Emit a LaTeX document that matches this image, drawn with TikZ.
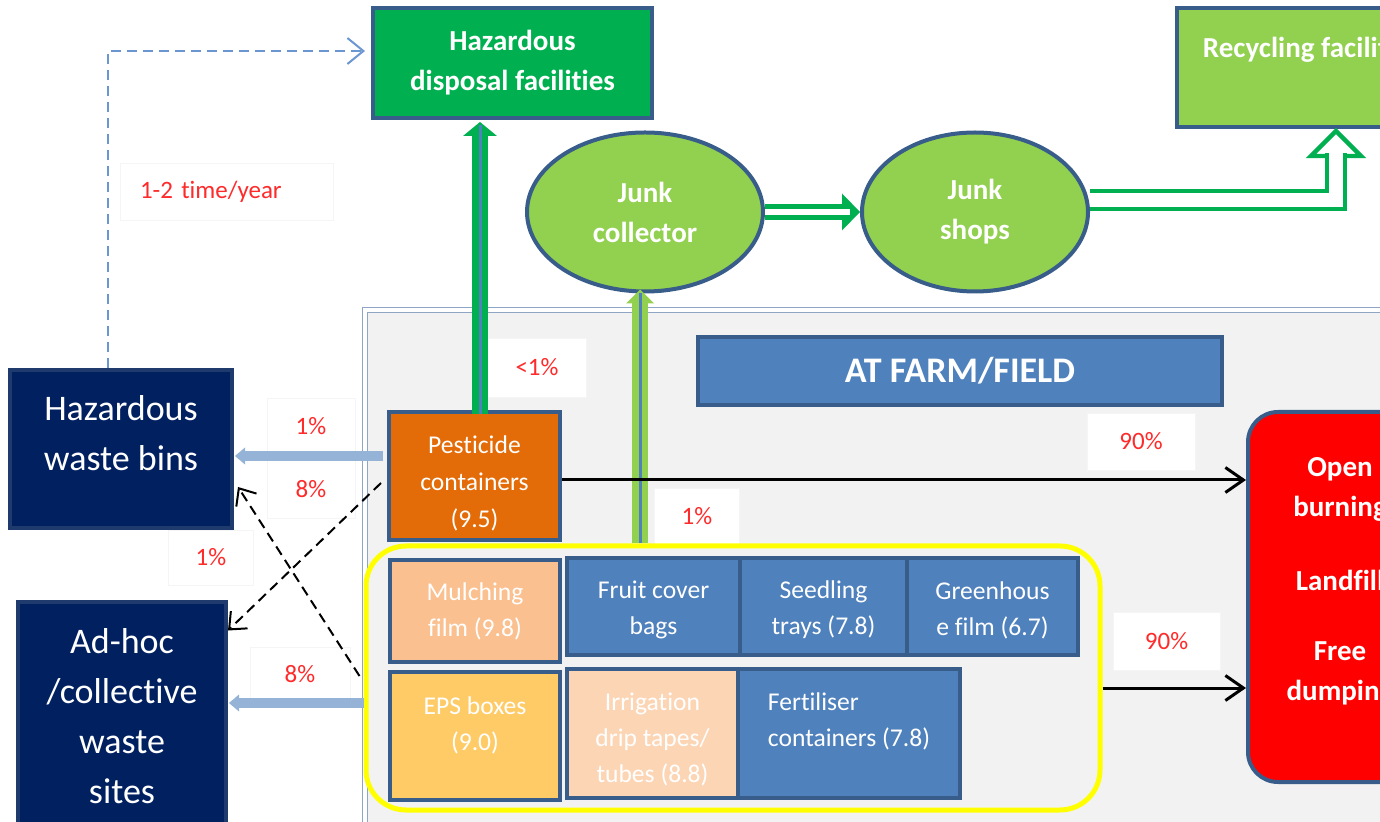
\documentclass[tikz,border=0pt]{standalone}
\usepackage{fontspec}
\setmainfont{Carlito}[Ligatures=NoCommon]
\usetikzlibrary{arrows.meta,shapes.geometric,calc}
\definecolor{bord}{HTML}{385D8A}
\definecolor{hgreen}{HTML}{00B050}
\definecolor{lgreen}{HTML}{92D050}
\definecolor{navy}{HTML}{002060}
\definecolor{navyb}{HTML}{1F3B6E}
\definecolor{orng}{HTML}{E36C09}
\definecolor{peach}{HTML}{FAC090}
\definecolor{epsc}{HTML}{FECB66}
\definecolor{irrc}{HTML}{FCD5B5}
\definecolor{fblue}{HTML}{4F81BD}
\definecolor{farmbg}{HTML}{F2F2F2}
\definecolor{frameb}{HTML}{8EA6C4}
\definecolor{ylw}{HTML}{FFFF00}
\definecolor{rd}{HTML}{FF0000}
\definecolor{pctred}{HTML}{FF2A2A}
\definecolor{lblue}{HTML}{95B3D7}
\definecolor{dblue}{HTML}{6A96D2}
\newcommand\myfs[2]{\fontsize{#1}{#2}\selectfont}
\tikzset{
  box/.style={draw=bord, line width=2pt, inner sep=0pt, align=center, text=white},
  nbox/.style={draw=navyb, line width=2pt, fill=navy, inner sep=0pt, align=center, text=white, font=\myfs{18}{25}},
  ell/.style={ellipse, draw=bord, line width=2pt, fill=lgreen, inner sep=0pt, align=center, text=white, font=\bfseries\myfs{14.5}{20}},
  itext/.style={font=\myfs{12.8}{18}},
  btext/.style={text=white, align=center, inner sep=0pt, font=\myfs{12.8}{18}},
  pct/.style={fill=white, draw=black!4, text=pctred, font=\myfs{12.5}{14}, inner sep=0pt},
  blkarrow/.style={black, line width=1.5pt, -{Straight Barb[length=9pt,width=12.5pt]}},
  blkdash/.style={black, line width=1pt, dash pattern=on 5pt off 3pt, -{Straight Barb[length=7pt,width=12pt]}},
  bluedash/.style={dblue, line width=1pt, dash pattern=on 5pt off 3pt, -{Straight Barb[length=8pt,width=13pt]}},
  hollow/.style={draw=hgreen, double=white},
}
\begin{document}
\begin{tikzpicture}[x=0.5pt,y=-0.5pt]
\useasboundingbox (0,0) rectangle (1380,822);
\clip (0,0) rectangle (1380,822);

% farm area frame
\node[draw=frameb, double=white, line width=0.6pt, double distance=2pt, fill=farmbg,
      minimum width=527.5pt, minimum height=275pt, inner sep=0pt] (frame) at (892.5,585) {};

% percentage labels
\node[pct, minimum width=106.5pt, minimum height=28.5pt, text width=86.5pt, inner xsep=10pt, align=left] (l12) at (226.5,191.5) {1-2 time/year};
\node[pct, minimum width=49.5pt, minimum height=29.5pt] (lt1) at (537,367.5) {<1\%};
\node[pct, minimum width=44pt, minimum height=28.5pt] (l1a) at (311,426.5) {1\%};
\node[pct, minimum width=44pt, minimum height=29pt] (l8a) at (311,489) {8\%};
\node[pct, minimum width=42.5pt, minimum height=27.5pt] (l1b) at (211,557.5) {1\%};
\node[pct, minimum width=50pt, minimum height=27pt] (l8b) at (300,674) {8\%};
\node[pct, minimum width=42.5pt, minimum height=28.5pt] (l1c) at (697,516.5) {1\%};
\node[pct, minimum width=54pt, minimum height=28.5pt] (l90a) at (1141,441.5) {90\%};
\node[pct, minimum width=53.5pt, minimum height=29pt] (l90b) at (1166.5,641) {90\%};

% top row
\node[box, fill=hgreen, minimum width=139.5pt, minimum height=55pt, font=\bfseries\myfs{14.5}{20}] (hdf) at (512.5,63) {Hazardous\\disposal facilities};
\node[box, fill=lgreen, minimum width=135pt, minimum height=59.5pt, font=\bfseries\myfs{14.5}{20}] (rec) at (1312,67.5) {Recycling facilities\\\mbox{}};
\node[ell, minimum width=118pt, minimum height=79.5pt] (jc) at (645,212) {Junk\\collector};
\node[ell, minimum width=113pt, minimum height=79.5pt] (js) at (975,212) {Junk\\shops};

% left boxes
\node[nbox, minimum width=111pt, minimum height=79pt] (hwb) at (121,449) {};
\node[text=white, align=center, font=\myfs{18}{25}, inner sep=0pt] (hwbt) at (121,433) {Hazardous\\waste bins};
\node[nbox, minimum width=104pt, minimum height=113.5pt] (adh) at (122,716) {Ad-hoc\\/collective\\waste\\sites};

% farm
\node[box, fill=fblue, minimum width=262pt, minimum height=34pt, font=\bfseries\myfs{18}{21}] (farm) at (960,371) {AT FARM/FIELD};
\node[box, fill=orng, minimum width=85.5pt, minimum height=64pt] (pc) at (474.5,476) {};
\node[btext, font=\myfs{12.8}{18.5}] (pct) at ([yshift=-3.5pt]pc.center) {Pesticide\\containers\\(9.5)};
\node[box, fill=rd, rounded corners=15pt, minimum width=92pt, minimum height=185pt] (dest) at (1340,597) {};
\node[btext, font=\bfseries\myfs{14.5}{20}] (destt) at ([yshift=8pt]dest.center) {Open\\burning\\[17pt]Landfill\\[15pt]Free\\dumping};

\node[draw=ylw, line width=2.5pt, rounded corners=20pt, minimum width=367pt, minimum height=132pt, inner sep=0pt] (ybox) at (733,678) {};
\node[box, itext, fill=peach, minimum width=85pt, minimum height=51pt] (mulch) at (475,611) {Mulching\\film (9.8)};
\node[box, fill=fblue, minimum width=86.5pt, minimum height=48.5pt] (fruit) at (653.5,606.5) {};
\node[btext] (fruitt) at ([yshift=-1.75pt]fruit.center) {Fruit cover\\bags};
\node[box, fill=fblue, minimum width=83.5pt, minimum height=48.5pt] (seed) at (823.5,606.5) {};
\node[btext] (seedt) at ([yshift=-1.75pt]seed.center) {Seedling\\trays (7.8)};
\node[box, fill=fblue, minimum width=85.5pt, minimum height=48.5pt] (ghf) at (992.5,606.5) {};
\node[btext] (ghft) at ([yshift=-1.75pt]ghf.center) {Greenhous\\e film (6.7)};
\node[box, fill=epsc, minimum width=85pt, minimum height=64pt] (eps) at (475,736) {};
\node[btext] (epst) at ([yshift=5.25pt]eps.center) {EPS boxes\\(9.0)};
\node[box, fill=irrc, minimum width=85.5pt, minimum height=64.5pt] (irr) at (652.5,733.5) {};
\node[btext] (irrt) at ([yshift=-3pt]irr.center) {Irrigation\\drip tapes/\\tubes (8.8)};
\node[box, fill=fblue, minimum width=111pt, minimum height=64.5pt] (fert) at (849,733.5) {};
\node[btext, align=left] (fertt) at ([yshift=6pt]fert.center) {Fertiliser\\containers (7.8)};

% dashed blue: bins -> hazardous disposal
\draw[bluedash] ([xshift=-6.5pt]hwb.north) |- ([xshift=-3pt,yshift=6pt]hdf.west);

% green arrow pesticide -> hazardous disposal
\coordinate (gA) at ([xshift=2.75pt,yshift=-2pt]pc.north);
\coordinate (gB) at (gA |- hdf.south);
\draw[hgreen, line width=8pt] (gA) -- ($(gB)+(0,14)$);
\fill[hgreen] ($(gB)+(0,2)$) -- ++(-17,14) -- ++(34,0) -- cycle;
\draw[fblue, line width=1.5pt] (gA) -- ($(gB)+(0,5)$);

% light green arrow yellow group -> junk collector
\coordinate (lgB) at ([xshift=-2.5pt,yshift=2pt]jc.south);
\coordinate (lgA) at (lgB |- ybox.north);
\draw[lgreen, line width=8pt] (lgA) -- ($(lgB)+(0,13)$);
\fill[lgreen] (lgB) -- ++(-14,14) -- ++(28,0) -- cycle;
\draw[fblue, line width=1.5pt] (lgA) -- ($(lgB)+(0,4)$);

% junk collector -> junk shops
\fill[hgreen] (js.west) -- ++(-18,-18.5) -- ++(0,37) -- cycle;
\draw[hollow, line width=2.5pt, double distance=3pt] (jc.east) -- ([xshift=-5pt]js.west);

% junk shops -> recycling
\coordinate (rT) at ([xshift=12pt,yshift=-1pt]rec.south);
\draw[hgreen, line width=2.2pt, fill=white, line join=miter] (rT) -- ++(-25,25) -- ++(50,0) -- cycle;
\draw[hollow, line width=2.2pt, double distance=7pt] ([yshift=6pt]js.east) -| ($(rT)+(0,22)$);

% light blue arrows
\coordinate (bA) at ([yshift=10pt]pc.west);
\coordinate (bB) at (bA -| hwb.east);
\draw[lblue, line width=5pt] ($(bA)+(-4,0)$) -- ($(bB)+(8,0)$);
\fill[lblue] ($(bB)+(1,0)$) -- ++(10,-8.5) -- ++(0,17) -- cycle;
\coordinate (cA) at ([yshift=-12.5pt]ybox.west);
\coordinate (cB) at (cA -| adh.east);
\draw[lblue, line width=5pt] (cA) -- ($(cB)+(8,0)$);
\fill[lblue] ($(cB)+(1,0)$) -- ++(10,-8.5) -- ++(0,17) -- cycle;

% dashed black crossing arrows
\draw[blkdash] ([xshift=-3pt,yshift=-3.5pt]pc.west) -- ([yshift=-15pt]adh.north east);
\draw[blkdash] ([xshift=-2pt,yshift=1pt]ybox.west) -- ([xshift=2pt,yshift=21.5pt]hwb.south east);

% black arrows to destination
\coordinate (kA) at ([yshift=-2pt]pc.east);
\draw[blkarrow] (kA) -- (kA -| dest.west);
\coordinate (kB) at ([yshift=-5pt]ybox.east);
\draw[blkarrow] (kB) -- (kB -| dest.west);
\end{tikzpicture}
\end{document}
